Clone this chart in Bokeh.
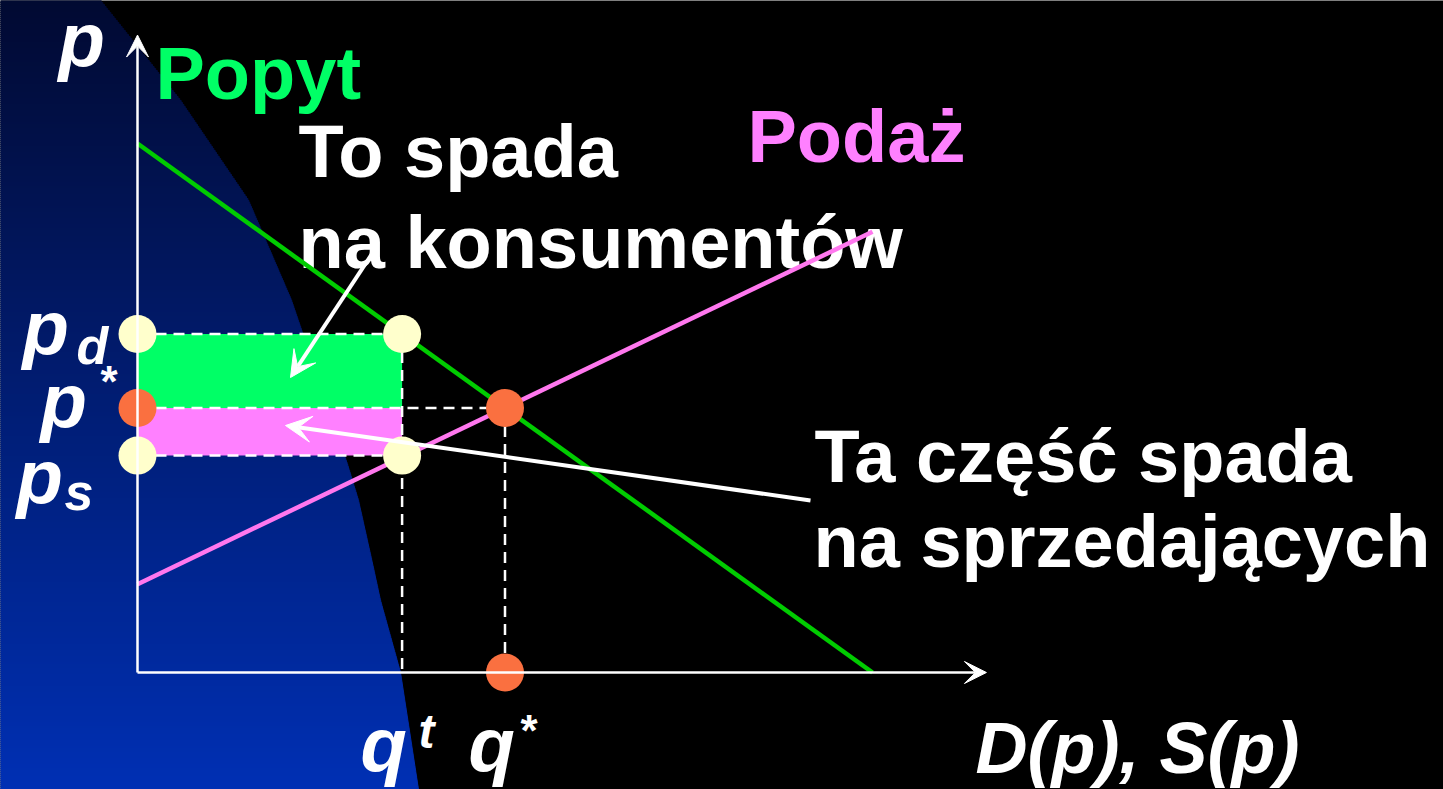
import numpy as np
from bokeh.plotting import figure
from bokeh.models import Arrow, VeeHead, Range1d
from bokeh.core.properties import value
from bokeh.embed import file_html
from bokeh.resources import INLINE

# ---------------- data ----------------
demand_q = [0.0, 10.0]
demand_p = [10.0, 0.0]
supply_q = [0.0, 10.0]
supply_p = [1.67, 8.33]
q_star = 5.0
p_star = 5.0
q_tax = 3.6
p_d = 6.4
p_s = 4.1
axis_q_end = 11.55
axis_p_end = 12.05

# decorative background shape (screen pixels of the slide)
bg_y = [0, 50, 100, 200, 300, 400, 464, 500, 563, 600, 672, 789]
bg_x = [100, 140, 180, 248, 291, 325, 347, 358, 372, 380, 400, 418]

# ---------------- mapping helpers (slide px -> data) ----------------
def X(px):
    return (px - 137) / 73.5

def Y(py):
    return (672 - py) / 52.9

W, H = 1443, 789
p = figure(width=W, height=H, x_range=Range1d(X(0), X(W)), y_range=Range1d(Y(H), Y(0)),
           output_backend="svg", toolbar_location=None, min_border=0,
           x_axis_location=None, y_axis_location=None,
           background_fill_color="#000000", border_fill_color="#000000",
           outline_line_color=None)
p.grid.visible = False

# gradient background shape
top_c = np.array([2, 10, 50])
bot_c = np.array([0, 48, 180])
step = 2
ys = np.arange(0, 790, step)
rights, cols, tops, bots = [], [], [], []
for yy in ys:
    mid = yy + step / 2
    bx = np.interp(mid, bg_y, bg_x)
    t = mid / 789
    c = (top_c * (1 - t) + bot_c * t).astype(int)
    cols.append("#%02x%02x%02x" % tuple(c))
    rights.append(X(bx))
    tops.append(Y(yy))
    bots.append(Y(yy + step))
p.quad(left=X(-20), right=rights, top=tops, bottom=bots, fill_color=cols, line_color=cols, line_width=1)

# tax burden rectangles
p.quad(left=[0], right=[q_tax], bottom=[p_star], top=[p_d], fill_color="#00ff66", line_color=None)
p.quad(left=[0], right=[q_tax], bottom=[p_s], top=[p_star], fill_color="#ff80ff", line_color=None)

# dashed guides
p.segment(x0=[0, 0, 0, q_tax, q_star], y0=[p_d, p_star, p_s, p_d, p_star],
          x1=[q_tax, q_star, q_tax, q_tax, q_star], y1=[p_d, p_star, p_s, 0, 0],
          line_color="white", line_width=2.5, line_dash="11 7")

FONT = value("Liberation Sans")

def txt(px, py, s, color="white", size="74px", style="bold"):
    p.text(x=[X(px)], y=[Y(py)], text=[s], text_font=FONT, text_font_style=style,
           text_font_size=size, text_color=color, text_baseline="alphabetic", text_align="left")

txt(155, 73, "Popyt", "#00ff66")
txt(298, 151, "To spada")
txt(298, 242, "na konsumentów")
txt(747, 136, "Podaż", "#ff80ff")
txt(814, 456, "Ta część spada")
txt(813, 541, "na sprzedających")

# axis labels
txt(58, 39, "p", size="76px", style="bold italic")
txt(22, 327, "p", size="76px", style="bold italic")
txt(76, 345, "d", size="52px", style="bold italic")
txt(100, 381, "*", size="44px", style="bold")
txt(40, 400, "p", size="76px", style="bold italic")
txt(16, 476, "p", size="76px", style="bold italic")
txt(64, 491, "s", size="52px", style="bold italic")
txt(360, 744, "q", size="76px", style="bold italic")
txt(418, 731, "t", size="48px", style="bold italic")
txt(468, 744, "q", size="76px", style="bold italic")
txt(520, 730, "*", size="44px", style="bold")
txt(975, 747, "D(p), S(p)", size="72px", style="bold italic")

# demand & supply
p.line(demand_q, demand_p, line_color="#00cc00", line_width=4.5)
p.line(supply_q, supply_p, line_color="#ff77ee", line_width=4.5)

# points
p.scatter([0, q_tax, 0, q_tax], [p_d, p_d, p_s, p_s], size=38, fill_color="#ffffcc", line_color=None)
p.scatter([0, q_star, q_star], [p_star, p_star, 0], size=38, fill_color="#fa7040", line_color=None)

# axes with arrowheads
p.add_layout(Arrow(x_start=0, y_start=0, x_end=axis_q_end, y_end=0, line_color="white", line_width=2.5,
                   end=VeeHead(size=22, fill_color="white", line_color="white", line_width=1)))
p.add_layout(Arrow(x_start=0, y_start=0, x_end=0, y_end=axis_p_end, line_color="white", line_width=2.5,
                   end=VeeHead(size=22, fill_color="white", line_color="white", line_width=1)))

# pointer arrows
p.add_layout(Arrow(x_start=X(377), y_start=Y(245), x_end=X(290), y_end=Y(377), line_color="white", line_width=4,
                   end=VeeHead(size=26, fill_color="white", line_color="white", line_width=1)))
p.add_layout(Arrow(x_start=X(810), y_start=Y(500), x_end=X(285), y_end=Y(425), line_color="white", line_width=4,
                   end=VeeHead(size=26, fill_color="white", line_color="white", line_width=1)))

open("out.html", "w").write(file_html(p, INLINE))
